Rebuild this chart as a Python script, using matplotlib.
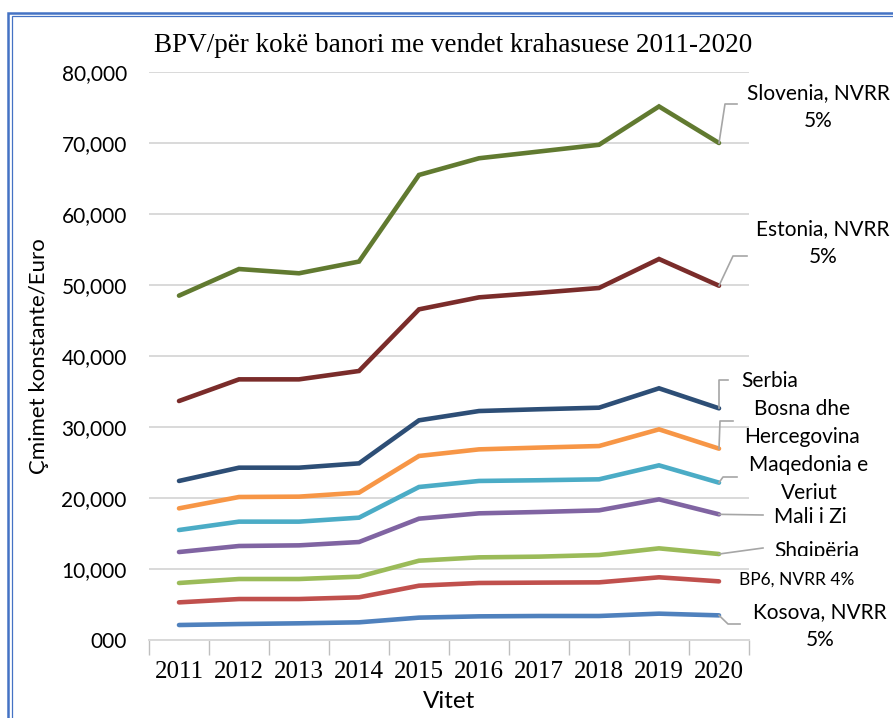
import numpy as np
import matplotlib
matplotlib.use("Agg")
import matplotlib.pyplot as plt
from matplotlib.patches import Rectangle
from matplotlib.transforms import Bbox

years = ['2011', '2012', '2013', '2014', '2015', '2016', '2017', '2018', '2019', '2020']

slovenia = [48500, 52250, 51650, 53300, 65500, 67850, 68800, 69750, 75150, 70000]
estonia = [33660, 36710, 36710, 37890, 46570, 48260, 48900, 49580, 53660, 49900]
serbia = [22400, 24270, 24270, 24880, 30940, 32250, 32500, 32720, 35450, 32630]
bosna = [18540, 20140, 20190, 20750, 25920, 26850, 27100, 27320, 29670, 26950]
maqedonia = [15490, 16670, 16670, 17230, 21550, 22400, 22500, 22630, 24600, 22160]
mali_zi = [12390, 13240, 13330, 13800, 17090, 17840, 18030, 18260, 19810, 17700]
shqiperia = [8030, 8590, 8590, 8920, 11170, 11640, 11740, 11970, 12910, 12110]
bp6 = [5300, 5770, 5770, 6010, 7650, 8030, 8080, 8120, 8830, 8260]
kosova = [2110, 2250, 2350, 2490, 3150, 3330, 3380, 3380, 3710, 3470]

y_ticks = [0, 10000, 20000, 30000, 40000, 50000, 60000, 70000, 80000]
y_tick_labels = ['000', '10,000', '20,000', '30,000', '40,000', '50,000', '60,000', '70,000', '80,000']

W, H = 893, 718
SANS = ['Lato', 'DejaVu Sans']
SERIF = ['Liberation Serif', 'DejaVu Serif']

fig = plt.figure(figsize=(W / 100, H / 100), dpi=100)
ax = fig.add_axes([149 / W, 1 - 640 / H, 600 / W, 568 / H])

def px(x, y):
    # figure pixel position (from top-left) -> figure fraction
    return (x / W, 1 - y / H)

# blue double frame around the chart (runs off the right/bottom edge)
fig.patches.append(Rectangle(px(8, 760), 1000 / W, 747 / H, transform=fig.transFigure,
                             fill=False, edgecolor='#4472C4', lw=1.8))
fig.patches.append(Rectangle(px(11.5, 760), 1000 / W, 744 / H, transform=fig.transFigure,
                             fill=False, edgecolor='#4472C4', lw=0.9))

xs = np.arange(len(years)) + 0.5
series = [
    (slovenia, '#617A30'),
    (estonia, '#7A2C2A'),
    (serbia, '#2D4E76'),
    (bosna, '#F79646'),
    (maqedonia, '#4BACC6'),
    (mali_zi, '#8064A2'),
    (shqiperia, '#9BBB59'),
    (bp6, '#C0504D'),
    (kosova, '#4F81BD'),
]
for vals, col in series:
    ax.plot(xs, vals, color=col, lw=3.3, solid_capstyle='round', solid_joinstyle='miter', zorder=3)

ax.set_xlim(0, 10)
ax.set_ylim(0, 80000)
ax.set_yticks(y_ticks)
ax.set_yticklabels(y_tick_labels, fontsize=15, family=SANS)
ax.set_xticks(np.arange(11))
ax.set_xticklabels([])
ax.set_xticks(xs, minor=True)
ax.set_xticklabels(years, minor=True, fontsize=18, family=SERIF)
ax.tick_params(axis='x', which='major', length=11, width=1, color='#BFBFBF', direction='out')
ax.tick_params(axis='x', which='minor', length=0, pad=15)
ax.tick_params(axis='y', length=0, pad=16)
ax.grid(axis='y', color='#D9D9D9', lw=1.4)
ax.set_axisbelow(True)
for s in ['top', 'right', 'left']:
    ax.spines[s].set_visible(False)
ax.spines['bottom'].set_color('#D9D9D9')
ax.spines['bottom'].set_linewidth(1.4)

ax.set_xlabel('Vitet', fontsize=17.5, family=SANS, labelpad=6)
ax.set_ylabel('Çmimet konstante/Euro', fontsize=16, family=SANS, labelpad=9)
fig.text(*px(453, 45), 'BPV/për kokë banori me vendet krahasuese 2011-2020',
         ha='center', va='center', fontsize=19.5, family=SERIF)

# series labels at the right end with grey leader lines
labels = [
    ('Slovenia, NVRR\n5%', slovenia, (818, 107), [(725, 104), (737, 104)], 15),
    ('Estonia, NVRR\n5%', estonia, (823, 243), [(733, 256), (747, 256)], 15),
    ('Serbia', serbia, (770, 381), [(719, 380), (728, 380)], 15),
    ('Bosna dhe\nHercegovina', bosna, (802, 423), [(720, 421), (733, 421)], 15),
    ('Maqedonia e\nVeriut', maqedonia, (809, 479), [(723, 477), (737, 477)], 15),
    ('Mali i Zi', mali_zi, (810, 517), [(763, 515)], 15),
    ('Shqipëria', shqiperia, (817, 551), [(763, 548)], 15),
    ('BP6, NVRR 4%', bp6, (797, 580), [], 12.5),
    ('Kosova, NVRR\n5%', kosova, (820, 626), [(728, 624), (740, 624)], 15),
]
disp = ax.transData
for text, vals, pos, bends, fs in labels:
    if bends:
        x0, y0 = disp.transform((xs[-1], vals[-1]))
        pts = np.array([(x0, y0)] + [(bx, H - by) for bx, by in bends])
        fig.add_artist(plt.Line2D(pts[:, 0] / W, pts[:, 1] / H, transform=fig.transFigure,
                                  color='#A6A6A6', lw=1.2))
    t = fig.text(*px(*pos), text, ha='center', va='center', fontsize=fs, family=SANS,
                 linespacing=1.45)
    if text == 'Shqipëria':
        # the label is cut off at its bottom in the original
        t.set_clip_box(Bbox([[0, H - 556], [W, H]]))
        t.set_clip_on(True)

fig.savefig('out.png', dpi=100)
